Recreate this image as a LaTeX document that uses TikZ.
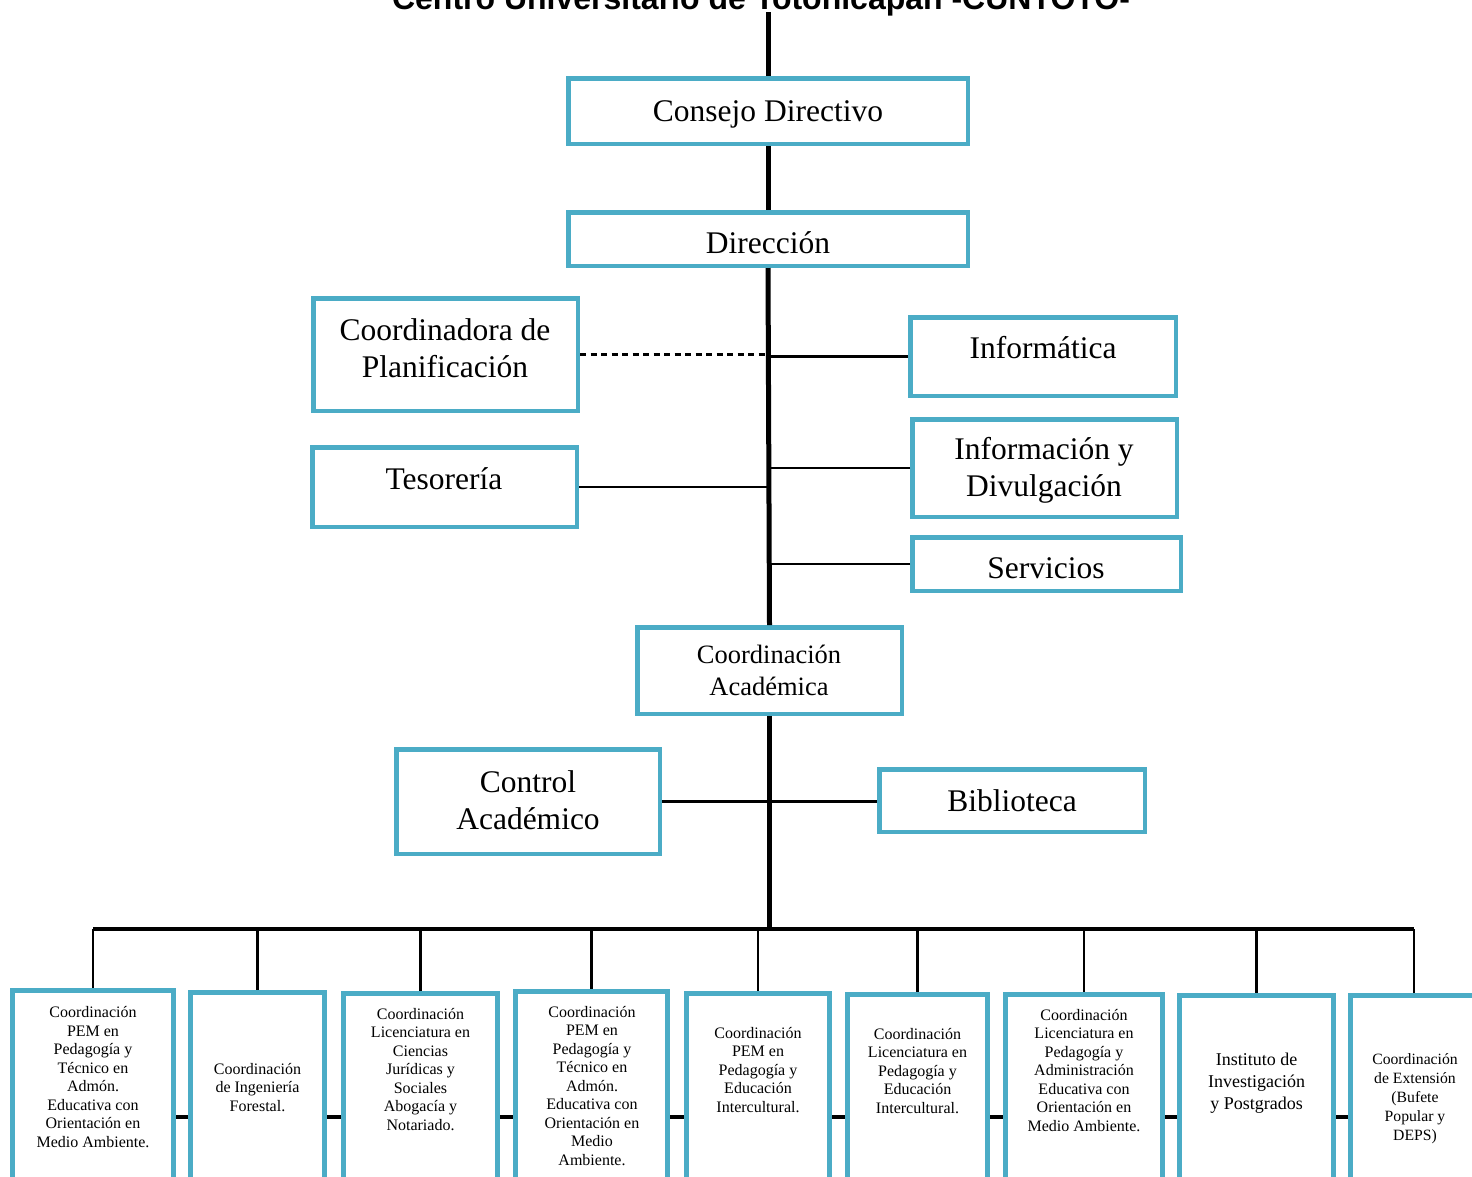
\documentclass[tikz,border=0pt]{standalone}
\usepackage{fontspec}
\setmainfont{Liberation Serif}
\newfontfamily\titlefont{Liberation Sans}
\usetikzlibrary{backgrounds}
\definecolor{boxblue}{HTML}{4BACC6}

\tikzset{
  orgbox/.style={draw=boxblue, line width=4.5pt, fill=white, inner sep=0pt},
  lowbox/.style={orgbox, line width=5pt, anchor=north},
  bigtext/.style={font=\fontsize{31.5}{37}\selectfont, align=center, inner sep=0pt},
  midtext/.style={font=\fontsize{26.5}{32}\selectfont, align=center, inner sep=0pt},
  smalltext/.style={font=\fontsize{16}{18.5}\selectfont, align=center, inner sep=0pt},
  trunkline/.style={line width=5pt},
  busline/.style={line width=4pt},
  twig/.style={line width=2.5pt},
}

\begin{document}
\begin{tikzpicture}[x=1pt, y=-1pt]
\clip (0,0) rectangle (1472,1176);

% heading
\node[font=\titlefont\bfseries\fontsize{32}{36}\selectfont, anchor=base, inner sep=0pt]
  (title) at (761,9) {Centro Universitario de Totonicapán -CUNTOTO-};
\coordinate (top) at (768,12);

% upper boxes
\node[orgbox, minimum width=399.5, minimum height=65.5] (consejo) at (768,111) {};
\node[bigtext] (tconsejo) at (768,114) {Consejo Directivo};
\node[orgbox, minimum width=399.5, minimum height=53.5] (direccion) at (768,239) {};
\node[bigtext] (tdireccion) at (768,243) {Dirección};
\node[orgbox, minimum width=264.5, minimum height=112.5] (planif) at (445.5,354.5) {};
\node[bigtext] (tplanif) at (445,348.5) {Coordinadora de\\Planificación};
\node[orgbox, minimum width=265.5, minimum height=78.5] (informatica) at (1043,356.5) {};
\node[bigtext] (tinformatica) at (1043,348) {Informática};
\node[orgbox, minimum width=264.5, minimum height=79.5] (tesoreria) at (444.5,487) {};
\node[bigtext] (ttesoreria) at (444,479) {Tesorería};
\node[orgbox, minimum width=264.5, minimum height=97.5] (infodiv) at (1044.5,468) {};
\node[bigtext] (tinfodiv) at (1044,470.5) {Información y\\Divulgación};
\node[orgbox, minimum width=268.5, minimum height=53.5] (servicios) at (1046.5,564) {};
\node[bigtext] (tservicios) at (1046,568) {Servicios};
\node[orgbox, minimum width=264.5, minimum height=86.5] (ca) at (769.5,670.5) {};
\node[midtext] (tca) at (769,670) {Coordinación\\Académica};
\node[orgbox, minimum width=263.5, minimum height=104.5] (control) at (528,801.5) {};
\node[bigtext] (tcontrol) at (528,800) {Control\\Académico};
\node[orgbox, minimum width=265.5, minimum height=62.5] (biblioteca) at (1012,800.5) {};
\node[bigtext] (tbiblioteca) at (1012,801) {Biblioteca};

% lower boxes (coordinations)
\node[lowbox, minimum width=161, minimum height=210] (b1) at (93,988) {};
\node[lowbox, minimum width=134, minimum height=210] (b2) at (257.5,990) {};
\node[lowbox, minimum width=154, minimum height=210] (b3) at (420.5,991) {};
\node[lowbox, minimum width=152, minimum height=210] (b4) at (591.5,989) {};
\node[lowbox, minimum width=143, minimum height=210] (b5) at (758,991) {};
\node[lowbox, minimum width=140, minimum height=210] (b6) at (917.5,992) {};
\node[lowbox, minimum width=157, minimum height=210] (b7) at (1084,992) {};
\node[lowbox, minimum width=154, minimum height=210] (b8) at (1256.5,993) {};
\node[lowbox, minimum width=127, minimum height=210] (b9) at (1414,993) {};

\node[smalltext] (t1) at (93,1077) {Coordinación\\PEM en\\Pedagogía y\\Técnico en\\Admón.\\Educativa con\\Orientación en\\Medio Ambiente.};
\node[smalltext] (t2) at (257.5,1087.5) {Coordinación\\de Ingeniería\\Forestal.};
\node[smalltext] (t3) at (420.5,1069.5) {Coordinación\\Licenciatura en\\Ciencias\\Jurídicas y\\Sociales\\Abogacía y\\Notariado.};
\node[smalltext] (t4) at (592,1086) {Coordinación\\PEM en\\Pedagogía y\\Técnico en\\Admón.\\Educativa con\\Orientación en\\Medio\\Ambiente.};
\node[smalltext] (t5) at (758,1070) {Coordinación\\PEM en\\Pedagogía y\\Educación\\Intercultural.};
\node[smalltext] (t6) at (917.5,1071) {Coordinación\\Licenciatura en\\Pedagogía y\\Educación\\Intercultural.};
\node[smalltext] (t7) at (1084,1070.5) {Coordinación\\Licenciatura en\\Pedagogía y\\Administración\\Educativa con\\Orientación en\\Medio Ambiente.};
\node[smalltext, font=\fontsize{18}{22}\selectfont] (t8) at (1256.5,1083) {Instituto de\\Investigación\\y Postgrados};
\node[smalltext, font=\fontsize{15.7}{19}\selectfont] (t9) at (1415,1099) {Coordinación\\de Extensión\\(Bufete\\Popular y\\DEPS)};

% main trunk
\draw[trunkline] (top) -- (consejo.north);
\draw[trunkline] (consejo.south) -- (direccion.north);
\draw[trunkline] (direccion.south) -- (ca.north);

% staff branches
\draw[twig, dash pattern=on 6pt off 4.5pt] (planif.east) -- (planif.east -| direccion.south);
\draw[twig] (informatica.west) -- (informatica.west -| direccion.south);
\draw[twig] (tesoreria.east) -- (tesoreria.east -| direccion.south);
\draw[twig] (infodiv.west) -- (infodiv.west -| ca.north);
\draw[twig] (servicios.west) -- (servicios.west -| ca.north);
\draw[twig] (control.east) -- (biblioteca.west |- control.east);

% distribution bus
\coordinate (bus) at (0,929);
\draw[trunkline] (ca.south) -- (ca.south |- bus);
\draw[busline] (b1.north |- bus) -- (b9.north |- bus);
\foreach \b in {b1,b2,b3,b4,b5,b6,b7,b8,b9}
  \draw[twig] (\b.north |- bus) -- (\b.north);

% link running behind the lower boxes
\begin{pgfonlayer}{background}
  \coordinate (link) at (0,1117);
  \draw[busline] (b1.center |- link) -- (b9.center |- link);
\end{pgfonlayer}
\end{tikzpicture}
\end{document}
